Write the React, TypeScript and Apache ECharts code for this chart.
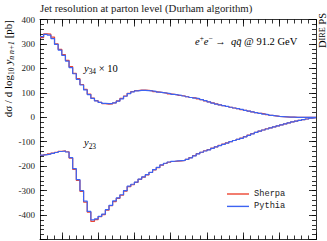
import React, { useEffect, useRef } from 'react';
import * as echarts from 'echarts';

// Histogram binning (log10 y_{n n+1})
const binLow = -7.6;
const binWidth = 0.1;
const xMin = -7.6;
const xMax = 0;
const xMajorTicks = [-7, -6, -5, -4, -3, -2, -1, 0];
const yMin = -500;
const yMax = 400;

// y34 x 10 (upper curve)
const sherpaY34x10 = [
  326, 341, 340, 328, 300, 278, 256, 233, 207, 180,
  158, 134, 114, 95, 78, 68, 61, 56, 54, 55,
  59, 67, 77, 87, 98, 105, 109, 111, 111, 110,
  108, 105, 103, 101, 99, 96, 94, 92, 89, 87,
  84, 81, 79, 75, 72, 67, 63, 59, 55, 51,
  48, 44, 41, 38, 35, 31, 28, 25, 22, 19,
  16, 14, 11, 8, 6, 4, 3, 2, 1, 1,
  0, 0, 0, 0, 0, 0,
];
const pythiaY34x10 = [
  330, 339, 336, 322, 298, 275, 253, 230, 203, 178,
  155, 132, 112, 93, 77, 67, 61, 57, 56, 56,
  59, 66, 75, 86, 97, 104, 108, 110, 110, 109,
  108, 106, 103, 101, 99, 97, 94, 92, 90, 87,
  84, 81, 78, 76, 72, 68, 63, 58, 54, 51,
  48, 45, 41, 38, 35, 32, 28, 25, 22, 19,
  16, 13, 11, 8, 6, 4, 3, 2, 1, 1,
  0, 0, 0, 0, 0, 0,
];

// y23 (lower curve)
const sherpaY23 = [
  -156, -153, -150, -147, -143, -139, -137, -141, -167, -213,
  -258, -303, -347, -388, -426, -419, -407, -398, -380, -362,
  -345, -332, -319, -302, -284, -276, -266, -254, -245, -236,
  -226, -215, -206, -196, -189, -184, -181, -179, -178, -176,
  -172, -165, -157, -149, -143, -137, -132, -126, -121, -115,
  -110, -105, -100, -95, -90, -85, -79, -73, -67, -62,
  -57, -52, -47, -43, -39, -35, -31, -27, -23, -19,
  -16, -13, -10, -7, -4, -2,
];
const pythiaY23 = [
  -155, -153, -151, -148, -144, -140, -138, -142, -165, -210,
  -255, -300, -343, -385, -420, -416, -405, -396, -378, -360,
  -342, -330, -317, -300, -282, -274, -265, -253, -244, -235,
  -225, -214, -205, -195, -188, -183, -180, -178, -177, -176,
  -172, -166, -158, -150, -143, -138, -133, -127, -121, -116,
  -111, -106, -100, -95, -90, -86, -80, -74, -68, -62,
  -57, -52, -48, -43, -39, -35, -31, -27, -23, -19,
  -16, -13, -10, -7, -4, -2,
];

const SERIF = 'Liberation Serif';
const MONO = 'Liberation Mono';
const TEXT = '#222';
const RED = '#ec4632';
const BLUE = '#3d63f2';

function toSteps(values: number[]): number[][] {
  const pts = values.map((v, i) => [+(binLow + i * binWidth).toFixed(4), v]);
  pts.push([+(binLow + values.length * binWidth).toFixed(4), values[values.length - 1]]);
  return pts;
}

function richStyles(size: number) {
  return {
    b: { fontFamily: SERIF, fontSize: size, lineHeight: 14, color: TEXT },
    i: { fontFamily: SERIF, fontSize: size, fontStyle: 'italic', lineHeight: 14, color: TEXT },
    s: { fontFamily: SERIF, fontSize: size * 0.7, lineHeight: 8, verticalAlign: 'bottom', color: TEXT },
    si: { fontFamily: SERIF, fontSize: size * 0.7, fontStyle: 'italic', lineHeight: 8, verticalAlign: 'bottom', color: TEXT },
    p: { fontFamily: SERIF, fontSize: size * 0.7, lineHeight: 8, verticalAlign: 'top', color: TEXT },
    sc: { fontFamily: SERIF, fontSize: size * 0.78, lineHeight: 14, color: TEXT },
  };
}

const tickStyle = { color: '#000', width: 0.8 };
const frameLine = { show: true, onZero: false, lineStyle: { color: '#000', width: 0.8 } };
const noLine = { show: false, onZero: false };

function xAxisDef(position: string, major: boolean) {
  return {
    type: 'value',
    position,
    min: xMin,
    max: xMax,
    ...(major ? {} : { interval: 0.2 }),
    axisLine: major ? frameLine : noLine,
    axisTick: major
      ? { show: true, inside: true, length: 7, customValues: xMajorTicks, lineStyle: tickStyle }
      : { show: true, inside: true, length: 4, lineStyle: tickStyle },
    axisLabel: { show: false },
    splitLine: { show: false },
  };
}

function yAxisDef(position: string, major: boolean, labels: boolean) {
  return {
    type: 'value',
    position,
    min: yMin,
    max: yMax,
    interval: major ? 100 : 20,
    axisLine: major ? frameLine : noLine,
    axisTick: { show: true, inside: true, length: major ? 7 : 4, lineStyle: tickStyle },
    axisLabel: labels
      ? {
          show: true,
          margin: 5,
          fontFamily: SERIF,
          fontSize: 9,
          color: TEXT,
          formatter: (v: number) => (v === yMin ? '' : String(v)),
        }
      : { show: false },
    splitLine: { show: false },
  };
}

function lineSeries(name: string, data: number[], color: string, z: number) {
  return {
    type: 'line',
    name,
    xAxisIndex: 0,
    yAxisIndex: 0,
    data: toSteps(data),
    step: 'end',
    symbol: 'none',
    z,
    lineStyle: { color, width: 1.2 },
    itemStyle: { color },
  };
}

export default function App() {
  const ref = useRef<HTMLDivElement>(null);
  useEffect(() => {
    const chart = echarts.init(ref.current!, null, { renderer: 'svg' });
    const option = {
      animation: false,
      backgroundColor: '#fff',
      grid: { left: 40, right: 11, top: 19.5, bottom: 1.5, containLabel: false },
      xAxis: [
        xAxisDef('bottom', true),
        xAxisDef('bottom', false),
        xAxisDef('top', true),
        xAxisDef('top', false),
      ],
      yAxis: [
        yAxisDef('left', true, true),
        yAxisDef('left', false, false),
        yAxisDef('right', true, false),
        yAxisDef('right', false, false),
      ],
      legend: {
        data: ['Sherpa', 'Pythia'],
        orient: 'vertical',
        left: 222,
        top: 184,
        icon: 'rect',
        itemWidth: 22,
        itemHeight: 1.4,
        itemGap: 2.4,
        selectedMode: false,
        textStyle: { fontFamily: MONO, fontSize: 8.7, lineHeight: 10, color: TEXT },
      },
      series: [
        lineSeries('Sherpa', sherpaY34x10, RED, 2),
        lineSeries('Sherpa', sherpaY23, RED, 2),
        lineSeries('Pythia', pythiaY34x10, BLUE, 3),
        lineSeries('Pythia', pythiaY23, BLUE, 3),
      ],
      graphic: [
        {
          type: 'text',
          x: 40,
          y: 7.5,
          style: {
            text: 'Jet resolution at parton level (Durham algorithm)',
            fontFamily: SERIF,
            fontSize: 10.8,
            fill: TEXT,
            verticalAlign: 'middle',
          },
        },
        {
          type: 'text',
          x: 8,
          y: 20,
          rotation: Math.PI / 2,
          style: {
            text: '{b|dσ / d log}{s|10}{b| }{i|y}{si|n n+1}{b| [pb]}',
            rich: richStyles(11),
            align: 'right',
            verticalAlign: 'middle',
          },
        },
        {
          type: 'text',
          x: 322,
          y: 13,
          rotation: Math.PI / 2,
          style: {
            text: '{b|D}{sc|IRE}{b| PS}',
            rich: richStyles(10.5),
            align: 'right',
            verticalAlign: 'middle',
          },
        },
        {
          type: 'text',
          x: 195,
          y: 41.7,
          style: {
            text: '{i|e}{p|+}{i|e}{p|−}{b| →  }{i|qq\u0304}{b| @ 91.2 GeV}',
            rich: richStyles(10.5),
            verticalAlign: 'middle',
          },
        },
        {
          type: 'text',
          x: 84,
          y: 68,
          style: {
            text: '{i|y}{s|34}{b| × 10}',
            rich: richStyles(10.5),
            verticalAlign: 'middle',
          },
        },
        {
          type: 'text',
          x: 84,
          y: 142.5,
          style: {
            text: '{i|y}{s|23}',
            rich: richStyles(10.5),
            verticalAlign: 'middle',
          },
        },
      ],
    };
    chart.setOption(option as any);
    return () => chart.dispose();
  }, []);
  return (
    <div
      ref={ref}
      style={{ position: 'fixed', left: 0, top: 0, width: 327, height: 241 }}
    />
  );
}
